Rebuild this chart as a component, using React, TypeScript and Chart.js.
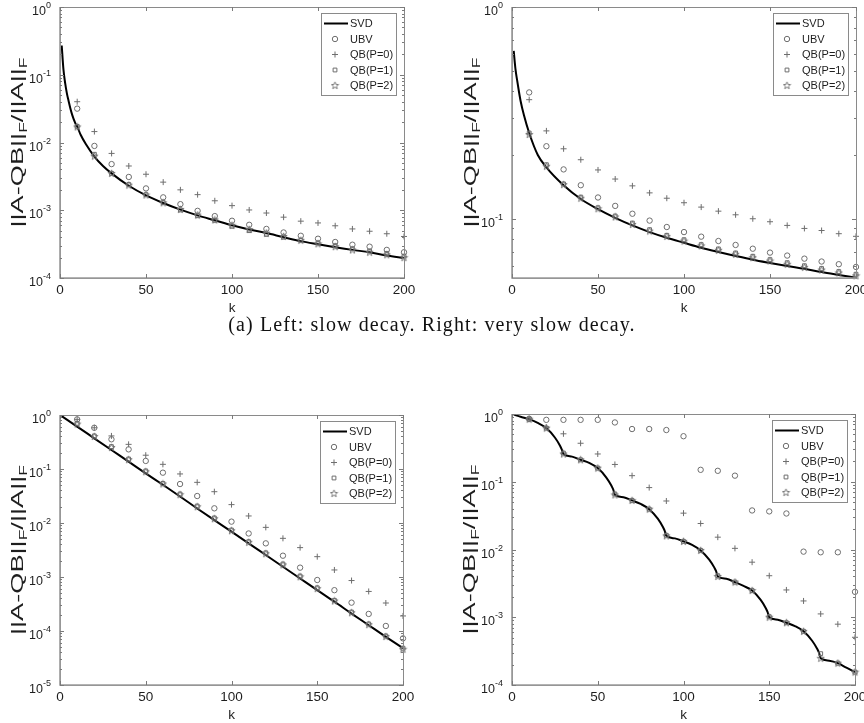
import React, { useEffect, useRef } from 'react';
import { Chart, registerables } from 'chart.js';
Chart.register(...registerables);

// ---------- data ----------
const kMarks = [10, 20, 30, 40, 50, 60, 70, 80, 90, 100, 110, 120, 130, 140, 150, 160, 170, 180, 190, 200];

// (top-left) slow decay
const svdK1 = [1, 2, 3, 4, 5, 6, 7, 8, 9, 10, 12, 15, 20, 25, 30, 40, 50, 60, 70, 80, 90, 100, 110, 120, 130, 140, 150, 160, 170, 180, 190, 200];
const svdV1 = [0.27, 0.12, 0.075, 0.053, 0.041, 0.032, 0.026, 0.022, 0.019, 0.0172, 0.013, 0.0095, 0.0062, 0.0045, 0.0035, 0.0023, 0.00166, 0.00128, 0.00102, 0.00084, 0.00071, 0.0006, 0.00052, 0.00046, 0.0004, 0.00035, 0.000315, 0.000285, 0.00026, 0.00024, 0.000215, 0.000197];
const ubv1 = [0.0316, 0.0089, 0.0048, 0.0031, 0.0021, 0.00155, 0.00123, 0.00098, 0.00082, 0.0007, 0.00061, 0.00053, 0.00047, 0.00042, 0.00038, 0.00034, 0.00031, 0.00029, 0.00026, 0.00024];
const qbP0_1 = [0.04, 0.0145, 0.0069, 0.0045, 0.0034, 0.0026, 0.002, 0.0017, 0.00138, 0.00117, 0.00101, 0.00091, 0.00079, 0.00069, 0.00065, 0.00059, 0.00053, 0.00049, 0.00045, 0.00041];
const qbP1_1 = [0.0173, 0.0067, 0.0035, 0.0024, 0.0017, 0.0013, 0.00101, 0.00083, 0.00071, 0.00058, 0.0005, 0.00044, 0.0004, 0.00036, 0.00033, 0.0003, 0.00027, 0.00025, 0.00023, 0.00021];
const qbP2_1 = [0.017, 0.0063, 0.0035, 0.00235, 0.00168, 0.00129, 0.00103, 0.00085, 0.00072, 0.0006, 0.00052, 0.00046, 0.00041, 0.00036, 0.00032, 0.00029, 0.00026, 0.00024, 0.00022, 0.0002];

// (top-right) very slow decay
const svdK2 = [1, 2, 3, 4, 5, 7, 10, 15, 20, 30, 40, 50, 60, 70, 80, 90, 100, 110, 120, 130, 140, 150, 160, 170, 180, 190, 200];
const svdV2 = [0.62, 0.51, 0.45, 0.4, 0.36, 0.307, 0.254, 0.2, 0.175, 0.144, 0.124, 0.111, 0.101, 0.093, 0.0865, 0.0813, 0.077, 0.073, 0.0697, 0.0667, 0.064, 0.0618, 0.0598, 0.058, 0.056, 0.0543, 0.0527];
const ubv2 = [0.395, 0.22, 0.171, 0.144, 0.126, 0.115, 0.1056, 0.098, 0.0914, 0.0865, 0.0823, 0.0785, 0.0752, 0.0722, 0.0692, 0.067, 0.0648, 0.0628, 0.061, 0.0592];
const qbP0_2 = [0.365, 0.26, 0.214, 0.19, 0.17, 0.154, 0.143, 0.1325, 0.125, 0.119, 0.1135, 0.1086, 0.1044, 0.1, 0.0968, 0.093, 0.09, 0.088, 0.085, 0.0826];
const qbP1_2 = [0.254, 0.18, 0.146, 0.1265, 0.1127, 0.103, 0.0954, 0.0888, 0.0835, 0.0796, 0.0755, 0.072, 0.0689, 0.0665, 0.0641, 0.062, 0.06, 0.0582, 0.0563, 0.0547];
const qbP2_2 = [0.25, 0.177, 0.145, 0.125, 0.1115, 0.102, 0.094, 0.0875, 0.0825, 0.0785, 0.0745, 0.071, 0.068, 0.0655, 0.0632, 0.061, 0.059, 0.0573, 0.0555, 0.0538];

// (bottom-left) fast decay
const svdK3 = [1, 10, 20, 30, 40, 50, 60, 70, 80, 90, 100, 110, 120, 130, 140, 150, 160, 170, 180, 190, 200];
const svdV3 = [0.95, 0.61, 0.37, 0.225, 0.137, 0.083, 0.051, 0.031, 0.0186, 0.0113, 0.0069, 0.0042, 0.00255, 0.00155, 0.00094, 0.00057, 0.00035, 0.00021, 0.000128, 0.000078, 0.000048];
const ubv3 = [0.83, 0.58, 0.355, 0.231, 0.141, 0.0855, 0.0527, 0.0316, 0.0187, 0.0106, 0.0064, 0.0042, 0.00248, 0.00149, 0.00088, 0.00057, 0.000335, 0.000207, 0.000124, 0.000073];
const qbP0_3 = [0.83, 0.58, 0.41, 0.286, 0.18, 0.122, 0.081, 0.0566, 0.038, 0.0219, 0.0135, 0.0083, 0.0052, 0.0035, 0.00238, 0.00135, 0.00086, 0.00054, 0.00033, 0.00019];
const qbP1_3 = [0.7, 0.41, 0.26, 0.153, 0.092, 0.054, 0.0344, 0.0206, 0.0124, 0.0074, 0.0045, 0.0028, 0.00174, 0.00104, 0.00063, 0.00037, 0.000224, 0.000135, 0.000081, 0.000048];
const qbP2_3 = [0.68, 0.4, 0.25, 0.149, 0.089, 0.053, 0.0335, 0.02, 0.012, 0.0072, 0.0044, 0.0027, 0.00168, 0.00101, 0.00061, 0.00036, 0.000218, 0.000131, 0.000079, 0.000046];

// (bottom-right) staircase decay
const svdK4 = [1, 5, 10, 15, 20, 25, 28, 29, 30, 35, 40, 45, 50, 55, 58, 59, 60, 65, 70, 75, 80, 85, 88, 89, 90, 95, 100, 105, 110, 115, 118, 119, 120, 125, 130, 135, 140, 145, 148, 149, 150, 155, 160, 165, 170, 175, 178, 179, 180, 185, 190, 195, 200];
const svdV4 = [0.98, 0.91, 0.84, 0.74, 0.62, 0.45, 0.34, 0.3, 0.257, 0.235, 0.211, 0.19, 0.159, 0.115, 0.087, 0.077, 0.064, 0.059, 0.053, 0.047, 0.0394, 0.0285, 0.0215, 0.019, 0.0159, 0.0146, 0.0132, 0.0117, 0.0097, 0.0071, 0.0054, 0.0048, 0.004, 0.0037, 0.0033, 0.0029, 0.00248, 0.0018, 0.00136, 0.0012, 0.001, 0.00092, 0.00083, 0.00074, 0.00062, 0.00045, 0.00034, 0.0003, 0.000248, 0.000228, 0.00021, 0.00018, 0.000155];
const ubv4 = [0.85, 0.82, 0.82, 0.82, 0.82, 0.75, 0.6, 0.6, 0.58, 0.47, 0.15, 0.145, 0.123, 0.0377, 0.0365, 0.034, 0.0093, 0.0091, 0.0091, 0.00237];
const qbP0_4 = [0.84, 0.64, 0.51, 0.37, 0.257, 0.18, 0.123, 0.082, 0.052, 0.0344, 0.0242, 0.0152, 0.0104, 0.0065, 0.0041, 0.00253, 0.00174, 0.00112, 0.00079, 0.000506];
const qbP1_4 = [0.84, 0.62, 0.265, 0.211, 0.159, 0.066, 0.053, 0.0394, 0.0162, 0.0132, 0.0097, 0.0041, 0.0033, 0.00248, 0.00102, 0.00083, 0.00062, 0.00029, 0.00021, 0.000155];
const qbP2_4 = [0.84, 0.62, 0.257, 0.211, 0.159, 0.064, 0.053, 0.0394, 0.0159, 0.0132, 0.0097, 0.004, 0.0033, 0.00248, 0.001, 0.00083, 0.00062, 0.000248, 0.00021, 0.000155];

const xTicks = [0, 50, 100, 150, 200];
const seriesNames = ['SVD', 'UBV', 'QB(P=0)', 'QB(P=1)', 'QB(P=2)'];
const captionText = '(a) Left: slow decay. Right: very slow decay.';
const xTitle = 'k';

// ---------- styling ----------
const MARK = '#6e6e6e';
const AXIS = '#8a8a8a';
const TEXT = '#1e1e1e';
const SANS = '"Liberation Sans", Arial, Helvetica, sans-serif';

function makeStar(): HTMLCanvasElement {
  const c = document.createElement('canvas');
  c.width = 9; c.height = 9;
  const g = c.getContext('2d')!;
  g.strokeStyle = MARK; g.lineWidth = 0.9;
  g.beginPath();
  for (let i = 0; i < 10; i++) {
    const r = i % 2 === 0 ? 3.8 : 1.6;
    const a = -Math.PI / 2 + (i * Math.PI) / 5;
    const px = 4.5 + r * Math.cos(a), py = 4.7 + r * Math.sin(a);
    if (i === 0) g.moveTo(px, py); else g.lineTo(px, py);
  }
  g.closePath(); g.stroke();
  return c;
}

function drawMarker(ctx: CanvasRenderingContext2D, kind: string, x: number, y: number, star: HTMLCanvasElement) {
  ctx.save();
  ctx.strokeStyle = MARK; ctx.lineWidth = 1;
  ctx.beginPath();
  if (kind === 'circle') { ctx.arc(x, y, 2.7, 0, Math.PI * 2); ctx.stroke(); }
  else if (kind === 'cross') { ctx.moveTo(x - 3, y); ctx.lineTo(x + 3, y); ctx.moveTo(x, y - 3); ctx.lineTo(x, y + 3); ctx.stroke(); }
  else if (kind === 'rect') { ctx.rect(x - 1.9, y - 1.9, 3.8, 3.8); ctx.stroke(); }
  else if (kind === 'star') { ctx.drawImage(star, x - 4.5, y - 4.5); }
  ctx.restore();
}

const framePlugin = {
  id: 'frame',
  afterDatasetsDraw(chart: any, _a: any, opts: any) {
    const ctx: CanvasRenderingContext2D = chart.ctx;
    const ca = chart.chartArea;
    // legend box
    const bw = 76, bh = 83;
    const bx = ca.right - 7 - bw, by = ca.top + 6;
    ctx.save();
    ctx.fillStyle = '#fff';
    ctx.fillRect(bx, by, bw, bh);
    ctx.strokeStyle = '#8a8a8a'; ctx.lineWidth = 1;
    ctx.strokeRect(bx + 0.5, by + 0.5, bw - 1, bh - 1);
    ctx.font = '11px ' + SANS;
    ctx.fillStyle = TEXT;
    ctx.textBaseline = 'middle';
    const kinds = ['line', 'circle', 'cross', 'rect', 'star'];
    for (let i = 0; i < 5; i++) {
      const ry = by + 10.5 + i * 15.5;
      if (kinds[i] === 'line') {
        ctx.strokeStyle = '#000'; ctx.lineWidth = 2;
        ctx.beginPath(); ctx.moveTo(bx + 3, ry); ctx.lineTo(bx + 27, ry); ctx.stroke();
      } else {
        drawMarker(ctx, kinds[i], bx + 14, ry, opts.star);
      }
      ctx.fillStyle = TEXT;
      ctx.fillText(seriesNames[i], bx + 29, ry + 0.5);
    }
    ctx.restore();
  },
  afterDraw(chart: any, _a: any, opts: any) {
    const ctx: CanvasRenderingContext2D = chart.ctx;
    const ca = chart.chartArea;
    const xs = chart.scales.x, ys = chart.scales.y;
    ctx.save();
    // box
    ctx.strokeStyle = AXIS; ctx.lineWidth = 1;
    ctx.strokeRect(Math.round(ca.left) + 0.5, Math.round(ca.top) + 0.5, Math.round(ca.right - ca.left), Math.round(ca.bottom - ca.top));
    ctx.strokeStyle = '#9a9a9a';
    ctx.lineWidth = 1.6;
    ctx.beginPath();
    ctx.moveTo(ca.left, ca.top); ctx.lineTo(ca.left, ca.bottom); ctx.lineTo(ca.right, ca.bottom);
    ctx.stroke();
    // x ticks
    ctx.strokeStyle = '#7a7a7a'; ctx.lineWidth = 1;
    ctx.beginPath();
    for (const t of xTicks) {
      const px = Math.round(xs.getPixelForValue(t)) + 0.5;
      ctx.moveTo(px, ca.bottom); ctx.lineTo(px, ca.bottom - 4);
      ctx.moveTo(px, ca.top); ctx.lineTo(px, ca.top + 4);
    }
    ctx.stroke();
    // y ticks (log, major + minor)
    const lo = Math.floor(Math.log10(ys.min)), hi = Math.ceil(Math.log10(ys.max));
    ctx.beginPath();
    const majors: [number, number][] = [];
    for (let n = lo; n <= hi; n++) {
      for (let m = 1; m <= 9; m++) {
        const v = m * Math.pow(10, n);
        if (v < ys.min * 0.999 || v > ys.max * 1.001) continue;
        const py = Math.round(ys.getPixelForValue(v)) + 0.5;
        const len = m === 1 ? 4 : 2;
        if (m === 1) majors.push([n, py]);
        ctx.moveTo(ca.left, py); ctx.lineTo(ca.left + len, py);
        ctx.moveTo(ca.right, py); ctx.lineTo(ca.right - len, py);
      }
    }
    ctx.stroke();
    // y tick labels: 10 with raised exponent
    ctx.fillStyle = TEXT;
    ctx.textBaseline = 'alphabetic';
    ctx.textAlign = 'left';
    for (const [n, py] of majors) {
      const ex = String(n);
      ctx.font = '9px ' + SANS;
      const we = ctx.measureText(ex).width;
      ctx.font = '12.5px ' + SANS;
      const wb = ctx.measureText('10').width;
      const right = ca.left - 9;
      ctx.fillText('10', right - we - wb, py + 7.5);
      ctx.font = '9px ' + SANS;
      ctx.fillText(ex, right - we, py + 0.5);
    }
    // y title with subscripts
    const cx = opts.titleX, cy = (ca.top + ca.bottom) / 2;
    ctx.translate(cx, cy);
    ctx.rotate(-Math.PI / 2);
    const big = '17px ' + SANS, small = '11px ' + SANS;
    const parts: [string, string, number][] = [['||A-QB||', big, 0], ['F', small, 4], ['/||A||', big, 0], ['F', small, 4]];
    let w = 0;
    for (const p of parts) { ctx.font = p[1]; w += ctx.measureText(p[0]).width; }
    ctx.scale(opts.titleLen / w, 1);
    let x = -w / 2;
    ctx.fillStyle = TEXT;
    ctx.textBaseline = 'alphabetic';
    for (const p of parts) {
      ctx.font = p[1];
      ctx.fillText(p[0], x, 6 + p[2]);
      x += ctx.measureText(p[0]).width;
    }
    ctx.restore();
  },
};

type PanelProps = {
  left: number; top: number; width: number; height: number;
  pad: { top: number; right: number };
  yWidth: number; xHeight: number;
  yMin: number; yMax: number;
  svdK: number[]; svdV: number[];
  ubv: number[]; p0: number[]; p1: number[]; p2: number[];
  titleX: number; titleLen: number;
};

function Panel(p: PanelProps) {
  const ref = useRef<HTMLCanvasElement>(null);
  useEffect(() => {
    const star = makeStar();
    const pts = (vals: number[]) => kMarks.map((k, i) => ({ x: k, y: vals[i] }));
    const markerDs = (label: string, vals: number[], style: any, radius: number) => ({
      label, data: pts(vals), showLine: false, pointStyle: style, pointRadius: radius,
      pointBorderColor: MARK, pointBackgroundColor: 'rgba(0,0,0,0)', pointBorderWidth: 1,
      borderColor: MARK, backgroundColor: 'rgba(0,0,0,0)', clip: false, order: 0,
    });
    const chart = new Chart(ref.current!, {
      type: 'line',
      data: {
        datasets: [
          {
            label: seriesNames[0], data: p.svdK.map((k, i) => ({ x: k, y: p.svdV[i] })),
            borderColor: '#000', borderWidth: 2, pointRadius: 0, fill: false,
            cubicInterpolationMode: 'monotone', order: 5,
          } as any,
          markerDs(seriesNames[1], p.ubv, 'circle', 2.7),
          markerDs(seriesNames[2], p.p0, 'cross', 3),
          markerDs(seriesNames[3], p.p1, 'rect', 2.7),
          markerDs(seriesNames[4], p.p2, star, 4.5),
        ],
      },
      options: {
        animation: false, responsive: false, maintainAspectRatio: false,
        events: [],
        layout: { padding: { left: 0, top: p.pad.top, right: p.pad.right, bottom: 0 } },
        plugins: {
          legend: { display: false }, tooltip: { enabled: false },
          frame: { titleX: p.titleX - p.left, titleLen: p.titleLen, star },
        } as any,
        scales: {
          x: {
            type: 'linear', min: 0, max: 200,
            afterBuildTicks: (s: any) => { s.ticks = xTicks.map((v) => ({ value: v })); },
            ticks: { font: { size: 13.5, family: SANS }, color: TEXT, padding: 4, maxRotation: 0 },
            grid: { display: false, drawTicks: false }, border: { display: false },
            title: { display: true, text: xTitle, font: { size: 13.5, family: SANS }, color: TEXT, padding: { top: 0, bottom: 0 } },
            afterFit: (s: any) => { s.height = p.xHeight; s.paddingLeft = 0; s.paddingRight = 0; },
          },
          y: {
            type: 'logarithmic', min: p.yMin, max: p.yMax,
            ticks: { display: false, autoSkip: false },
            grid: { display: false, drawTicks: false }, border: { display: false },
            afterFit: (s: any) => { s.width = p.yWidth; s.paddingTop = 0; s.paddingBottom = 0; },
          },
        },
      } as any,
      plugins: [framePlugin],
    });
    return () => chart.destroy();
  }, []);
  return (
    <canvas
      ref={ref}
      width={p.width}
      height={p.height}
      style={{ position: 'absolute', left: p.left, top: p.top, width: p.width, height: p.height }}
    />
  );
}

export default function App() {
  return (
    <div style={{ position: 'fixed', left: 0, top: 0, width: 864, height: 723, background: '#fff', overflow: 'hidden' }}>
      <Panel left={0} top={0} width={432} height={316} pad={{ top: 7, right: 28 }} yWidth={60} xHeight={38}
        yMin={1e-4} yMax={1} svdK={svdK1} svdV={svdV1} ubv={ubv1} p0={qbP0_1} p1={qbP1_1} p2={qbP2_1} titleX={17} titleLen={170} />
      <Panel left={432} top={0} width={432} height={316} pad={{ top: 7, right: 8 }} yWidth={80} xHeight={38}
        yMin={0.0525} yMax={1} svdK={svdK2} svdV={svdV2} ubv={ubv2} p0={qbP0_2} p1={qbP1_2} p2={qbP2_2} titleX={470} titleLen={170} />
      <Panel left={0} top={400} width={432} height={323} pad={{ top: 15, right: 29 }} yWidth={60} xHeight={38}
        yMin={1e-5} yMax={1} svdK={svdK3} svdV={svdV3} ubv={ubv3} p0={qbP0_3} p1={qbP1_3} p2={qbP2_3} titleX={17} titleLen={170} />
      <Panel left={432} top={400} width={432} height={323} pad={{ top: 14, right: 9 }} yWidth={80} xHeight={38}
        yMin={1e-4} yMax={1} svdK={svdK4} svdV={svdV4} ubv={ubv4} p0={qbP0_4} p1={qbP1_4} p2={qbP2_4} titleX={469} titleLen={170} />
      <div style={{
        position: 'absolute', left: 0, top: 311, width: 864, textAlign: 'center',
        fontFamily: '"Liberation Serif", "DejaVu Serif", serif', fontSize: 20, letterSpacing: '1.1px',
        color: '#111', lineHeight: '26px',
      }}>{captionText}</div>
    </div>
  );
}
